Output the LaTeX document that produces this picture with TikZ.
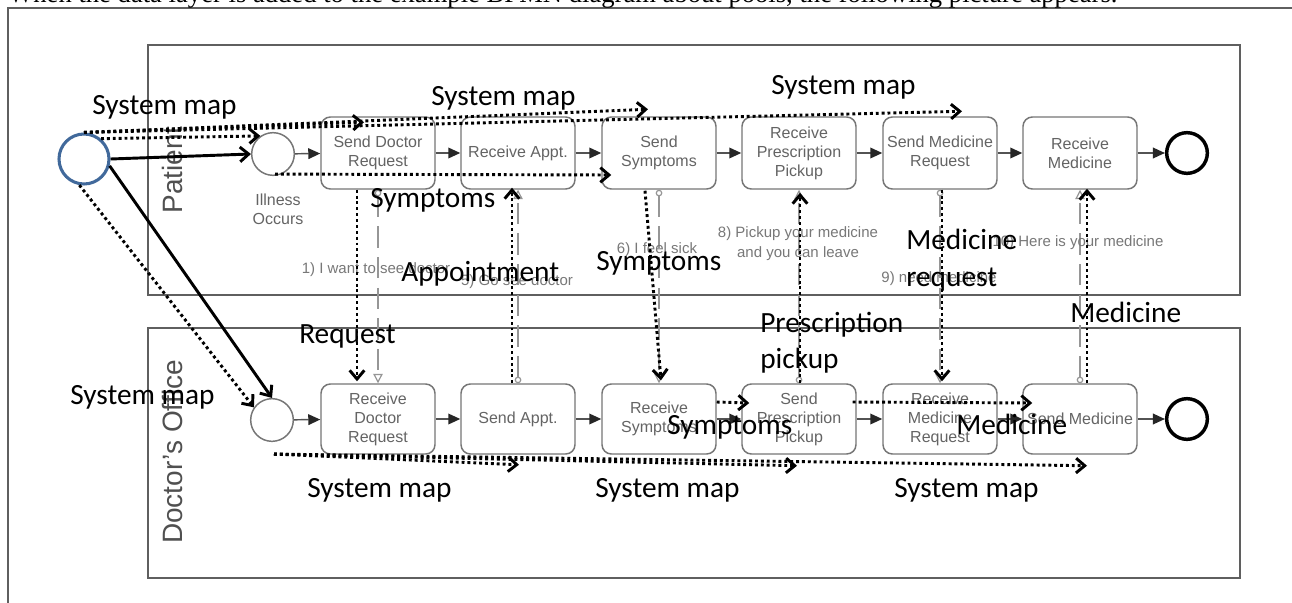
\documentclass[tikz,border=0pt]{standalone}
\usepackage{fontspec}
\setmainfont{Liberation Sans}
\newfontfamily\calibrifont{Carlito}
\newfontfamily\captionfont{Liberation Serif}
\usetikzlibrary{arrows.meta,calc}

\definecolor{srcblue}{RGB}{65,105,155}
\definecolor{taskline}{RGB}{118,118,118}
\definecolor{tasktext}{RGB}{100,100,100}
\definecolor{msggray}{RGB}{150,150,150}
\definecolor{msgtext}{RGB}{120,120,120}
\definecolor{framegray}{RGB}{95,95,95}
\definecolor{lanetext}{RGB}{80,80,80}

\tikzset{
  task/.style={draw=taskline, line width=1.1pt, rounded corners=7pt,
    minimum width=85.5pt, minimum height=54pt, inner sep=1pt, align=center,
    text=tasktext, font=\fontsize{12}{14.25}\selectfont},
  lowtask/.style={task, minimum height=52.5pt},
  startev/.style={circle, draw=taskline, line width=1.1pt, minimum size=32pt, inner sep=0pt},
  endev/.style={circle, draw=black, line width=2.6pt, minimum size=30.5pt, inner sep=0pt},
  seqflow/.style={draw=taskline!70!black, line width=1.1pt,
    -{Triangle[length=9pt,width=8pt,fill=black!85,color=black!85]}},
  msgflow/.style={draw=msggray, line width=0.9pt, dash pattern=on 16pt off 7pt,
    {Circle[open,length=5pt,width=5pt]}-{Triangle[open,length=7pt,width=7pt]}},
  msglabel/.style={text=msgtext, font=\fontsize{11.25}{15}\selectfont, inner sep=0pt, align=center},
  eventlabel/.style={text=tasktext, font=\fontsize{12}{14.25}\selectfont, inner sep=0pt, align=center},
  lane/.style={draw=framegray, line width=1.1pt},
  lanelabel/.style={rotate=90, text=lanetext, font=\fontsize{21}{24}\selectfont, inner sep=0pt},
  datasource/.style={circle, draw=srcblue, line width=2.3pt, minimum size=37.5pt, inner sep=0pt},
  link/.style={draw=black, line width=2.2pt, -{Straight Barb[length=6.5pt,width=11pt]}},
  data/.style={link, dash pattern=on 2.2pt off 2.2pt},
  datalabel/.style={font=\calibrifont\fontsize{22}{27.75}\selectfont, inner sep=0pt, anchor=base west}
}

\begin{document}
\begin{tikzpicture}[x=0.75pt,y=-0.75pt]
  \useasboundingbox (0,0) rectangle (1292,603);
  \clip (0,0) rectangle (1292,603);
  \fill[white] (0,0) rectangle (1292,603);

  % page frame and the caption line above it
  \draw[framegray, line width=1.1pt] (8,603) -- (8,8) -- (1292,8);
  \node[anchor=base west, inner sep=0pt] (caption) at (8,2.5)
    {\resizebox{831.75pt}{!}{\captionfont When the data layer is added to the example BPMN diagram about pools, the following picture appears.}};

  % pools
  \draw[lane] (148,45) rectangle (1240,295);
  \draw[lane] (148,328) rectangle (1240,578);
  \node[lanelabel] (patientlbl) at (172,170) {Patient};
  \node[lanelabel] (doctorlbl) at (172,452) {Doctor’s Office};

  % patient lane
  \node[startev] (su) at (273,154) {};
  \node[eventlabel] (illness) at (278,209.5) {Illness\\Occurs};
  \node[task] (t1u) at (378,153) {Send Doctor\\Request};
  \node[task] (t2u) at (518,153) {Receive Appt.};
  \node[task] (t3u) at (659,153) {Send\\Symptoms};
  \node[task] (t4u) at (799,153) {Receive\\Prescription\\Pickup};
  \node[task] (t5u) at (940,153) {Send Medicine\\Request};
  \node[task] (t6u) at (1080,153) {Receive\\Medicine};
  \node[endev] (eu) at (1187,153) {};

  % doctor's office lane
  \node[startev] (sd) at (272,420) {};
  \node[lowtask] (t1d) at (378,419) {Receive\\Doctor\\Request};
  \node[lowtask] (t2d) at (518,419) {Send Appt.};
  \node[lowtask] (t3d) at (659,419) {Receive\\Symptoms};
  \node[lowtask] (t4d) at (799,419) {Send\\Prescription\\Pickup};
  \node[lowtask] (t5d) at (940,419) {Receive\\Medicine\\Request};
  \node[lowtask] (t6d) at (1080,419) {Send Medicine};
  \node[endev] (ed) at (1187,419) {};

  % sequence flows
  \foreach \a/\b in {su/t1u,t1u/t2u,t2u/t3u,t3u/t4u,t4u/t5u,t5u/t6u,t6u/eu,
                     sd/t1d,t1d/t2d,t2d/t3d,t3d/t4d,t4d/t5d,t5d/t6d,t6d/ed}
    \draw[seqflow] (\a) -- (\b);

  % message flows
  \draw[msgflow] (t1u.south) -- (t1d.north);
  \draw[msgflow] (t2d.north) -- (t2u.south);
  \draw[msgflow] (t3u.south) -- (t3d.north);
  \draw[msgflow] (t4d.north) -- (t4u.south);
  \draw[msgflow] (t5u.south) -- (t5d.north);
  \draw[msgflow] (t6d.north) -- (t6u.south);
  \node[msglabel] (m1) at (376,270) {1) I want to see doctor};
  \node[msglabel] (m5) at (517,282) {5) Go see doctor};
  \node[msglabel] (m6) at (657,250) {6) I feel sick};
  \node[msglabel] (m8) at (798,244) {8) Pickup your medicine\\and you can leave};
  \node[msglabel] (m9) at (939,279) {9) need medicine};
  \node[msglabel] (m10) at (1078,243) {10) Here is your medicine};

  % data layer
  \node[datasource] (src) at (84,159) {};
  \draw[link] (src.east) -- (su.west);
  \draw[link] (src.-15) -- (sd.north);
  \draw[data] (src.50) -- (su.125);
  \draw[data] (src.north) -- ($(t1u.north)+(-14,6)$);
  \draw[data] (src.north) -- ($(t3u.north)+(-11,-7)$);
  \draw[data] (src.north) -- ($(t5u.north)+(22,-5)$);
  \draw[data] (src.-100) -- (sd.145);

  \draw[data] ($(su.south)+(2,-2)$) -- ($(t3u.west)+(10,22)$);

  \coordinate (mapstart) at ($(sd.south)+(2,12)$);
  \draw[data] (mapstart) -- ($(t2d.south)+(1,10)$);
  \draw[data] (mapstart) -- ($(t4d.south)+(-2,11)$);
  \draw[data] (mapstart) -- ($(t6d.south)+(7,11)$);

  \draw[data] ($(t1u.south)+(-21,0)$) -- ($(t1d.north)+(-21,-2)$);
  \draw[data] ($(t2d.north)+(-6,0)$) -- ($(t2u.south)+(-6,-2)$);
  \draw[data] ($(t3u.south)+(-14,1)$) -- ($(t3d.north)+(2,-3)$);
  \draw[data] ($(t4d.north)+(1,0)$) -- ($(t4u.south)+(1,3)$);
  \draw[data] ($(t5u.south)+(2,0)$) -- ($(t5d.north)+(2,-2)$);
  \draw[data] ($(t6d.north)+(7,0)$) -- ($(t6u.south)+(7,-1)$);

  \draw[data] ($(t3d.east)+(0,-17)$) -- ($(t4d.west)+(8,-16)$);
  \draw[data] ($(t4d.east)+(-4,-17)$) -- ($(t6d.west)+(10,-16)$);

  % data labels
  \node[datalabel] (l1) at (92,114) {System map};
  \node[datalabel] (l2) at (431,105) {System map};
  \node[datalabel] (l3) at (771,94) {System map};
  \node[datalabel] (l4) at (370,207) {Symptoms};
  \node[datalabel] (l5) at (401,281) {Appointment};
  \node[datalabel] (l6) at (596,270) {Symptoms};
  \node[datalabel] (l7a) at (906,249) {Medicine};
  \node[datalabel] (l7b) at (906,286) {request};
  \node[datalabel] (l8) at (299,343) {Request};
  \node[datalabel] (l9a) at (760,332) {Prescription};
  \node[datalabel] (l9b) at (760,368) {pickup};
  \node[datalabel] (l10) at (1070,322) {Medicine};
  \node[datalabel] (l11) at (70,404) {System map};
  \node[datalabel] (l12) at (667,434) {Symptoms};
  \node[datalabel] (l13) at (956,434) {Medicine};
  \node[datalabel] (l14) at (307,497) {System map};
  \node[datalabel] (l15) at (595,497) {System map};
  \node[datalabel] (l16) at (894,497) {System map};
\end{tikzpicture}
\end{document}
